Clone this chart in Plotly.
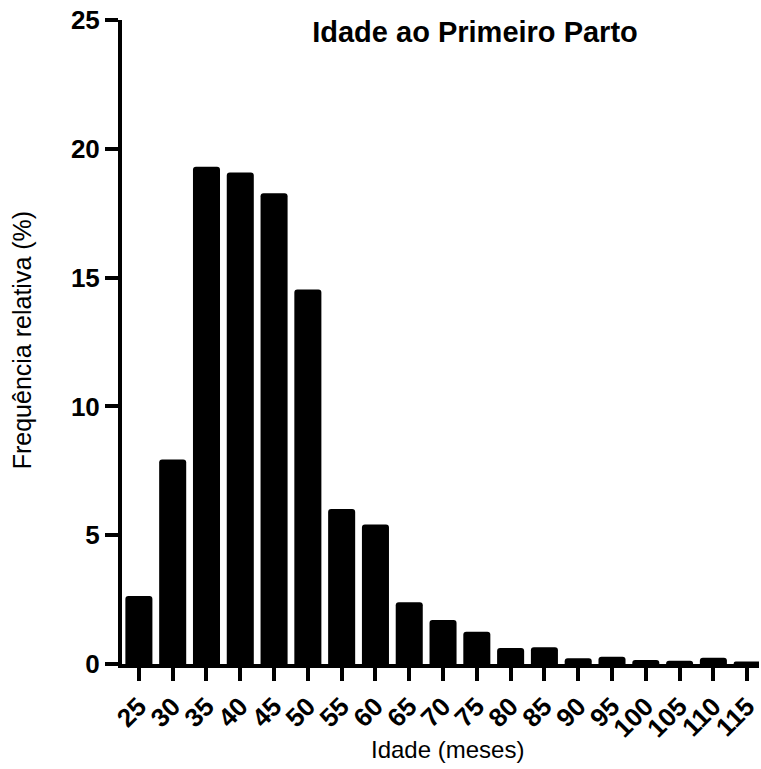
import plotly.graph_objects as go

# Age at first calving (months) and relative frequency (%)
idade = ["25", "30", "35", "40", "45", "50", "55", "60", "65", "70",
         "75", "80", "85", "90", "95", "100", "105", "110", "115"]
frequencia = [2.64, 7.94, 19.30, 19.08, 18.27, 14.54, 6.02, 5.42, 2.40, 1.71,
              1.25, 0.62, 0.65, 0.22, 0.28, 0.16, 0.13, 0.24, 0.10]
y_ticks = [0, 5, 10, 15, 20, 25]

tick_font = dict(family="Liberation Sans, Arial", size=26, color="black", weight="bold")

fig = go.Figure(
    go.Bar(
        x=idade,
        y=frequencia,
        marker=dict(color="black", line=dict(width=0)),
        width=0.8,
    )
)

fig.update_layout(
    width=761,
    height=769,
    paper_bgcolor="white",
    plot_bgcolor="white",
    margin=dict(l=122, r=0, t=20, b=105),
    showlegend=False,
    barcornerradius=3,
    title=dict(
        text="<b>Idade ao Primeiro Parto</b>",
        font=dict(family="Liberation Sans, Arial", size=29, color="black"),
        x=475 / 761,
        xanchor="center",
        xref="container",
        y=1 - 22 / 769,
        yanchor="top",
        yref="container",
    ),
    xaxis=dict(
        type="category",
        range=[-0.5, 18.35],
        tickmode="array",
        tickvals=idade,
        ticktext=idade,
        showline=True,
        linecolor="black",
        linewidth=4,
        ticks="outside",
        ticklen=13,
        tickwidth=4,
        tickcolor="black",
        tickangle=-45,
        tickfont=tick_font,
        showgrid=False,
        zeroline=False,
    ),
    yaxis=dict(
        range=[0, 25],
        tickvals=y_ticks,
        ticktext=[str(v) for v in y_ticks],
        showline=True,
        linecolor="black",
        linewidth=4,
        ticks="outside",
        ticklen=13,
        tickwidth=4,
        tickcolor="black",
        tickfont=tick_font,
        showgrid=False,
        zeroline=False,
    ),
    annotations=[
        dict(
            text="Frequência relativa (%)",
            x=22, y=340, xref="paper", yref="paper",
            textangle=-90, showarrow=False,
            font=dict(family="Liberation Sans, Arial", size=25, color="black"),
            xanchor="center", yanchor="middle",
        ),
        dict(
            text="Idade (meses)",
            x=449, y=749, xref="paper", yref="paper",
            showarrow=False,
            font=dict(family="Liberation Sans, Arial", size=24, color="black"),
            xanchor="center", yanchor="middle",
        ),
    ],
)

# Axis-title annotations are placed in pixel terms, converted to paper fractions
plot_l, plot_r = 122, 761
plot_t, plot_b = 20, 769 - 105
for ann in fig.layout.annotations:
    px, py = ann.x, ann.y
    ann.x = (px - plot_l) / (plot_r - plot_l)
    ann.y = (plot_b - py) / (plot_b - plot_t)

fig.write_html("out.html")
